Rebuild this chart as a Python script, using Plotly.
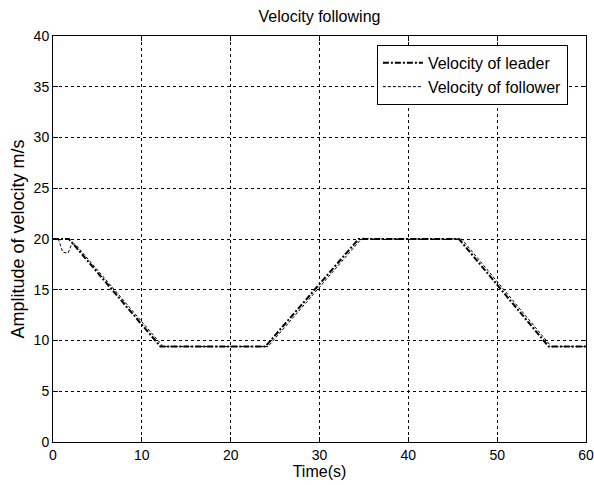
import plotly.graph_objects as go

# Leader velocity (piecewise linear breakpoints)
leader_t = [0, 1.8, 12.1, 23.9, 34.4, 45.7, 55.8, 60]
leader_v = [20, 20, 9.4, 9.4, 20, 20, 9.4, 9.4]

# Follower velocity
follower_t = [0, 0.6, 1.1, 1.7, 2.1, 2.5, 12.4, 24.2, 34.6, 35.0, 35.6, 46.0, 56.1, 60]
follower_v = [20, 20, 18.7, 18.6, 19.5, 19.5, 9.4, 9.4, 19.9, 20.1, 20.0, 20.0, 9.4, 9.4]

x_ticks = [0, 10, 20, 30, 40, 50, 60]
y_ticks = [0, 5, 10, 15, 20, 25, 30, 35, 40]

FAM = "Liberation Sans, Arial, sans-serif"
tick_font = dict(family=FAM, size=14, color="black")
legend_font = dict(family=FAM, size=16, color="black")
title_font = dict(family=FAM, size=16, color="black")

fig = go.Figure()
fig.add_trace(go.Scatter(x=leader_t, y=leader_v, mode="lines",
                         name="Velocity of leader",
                         line=dict(color="black", width=2, dash="6px,2px,2px,2px")))
fig.add_trace(go.Scatter(x=follower_t, y=follower_v, mode="lines",
                         name="Velocity of follower",
                         line=dict(color="black", width=1, dash="3px,2px")))

axis_common = dict(showline=True, linecolor="black", linewidth=1, mirror="ticks",
                   ticks="inside", ticklen=5, tickcolor="black",
                   showgrid=True, gridcolor="black", gridwidth=1, griddash="3px,3px",
                   zeroline=False, tickfont=tick_font, automargin=False)

fig.update_xaxes(range=[0, 60], tickvals=x_ticks,
                 title=dict(text="Time(s)", font=dict(family=FAM, size=16, color="black"), standoff=2),
                 **axis_common)
fig.update_yaxes(range=[0, 40], tickvals=y_ticks,
                 title=dict(text="Amplitude of velocity m/s", font=dict(family=FAM, size=18, color="black"), standoff=4),
                 **axis_common)

fig.update_layout(
    width=594, height=485,
    margin=dict(l=53, r=8, t=36, b=43),
    paper_bgcolor="white", plot_bgcolor="white",
    font=tick_font,
    title=dict(text="Velocity following", x=(53 + 586) / 2 / 594, xanchor="center",
               y=1 - 16 / 485, yanchor="middle", font=title_font),
    legend=dict(x=0.966, y=0.978, xanchor="right", yanchor="top",
                bgcolor="white", bordercolor="black", borderwidth=1,
                font=legend_font, tracegroupgap=0, itemwidth=40),
    showlegend=True,
)

fig.write_html("out.html",
               config={"displayModeBar": False},
               post_script="document.body.style.margin='0';document.body.style.overflow='hidden';")
